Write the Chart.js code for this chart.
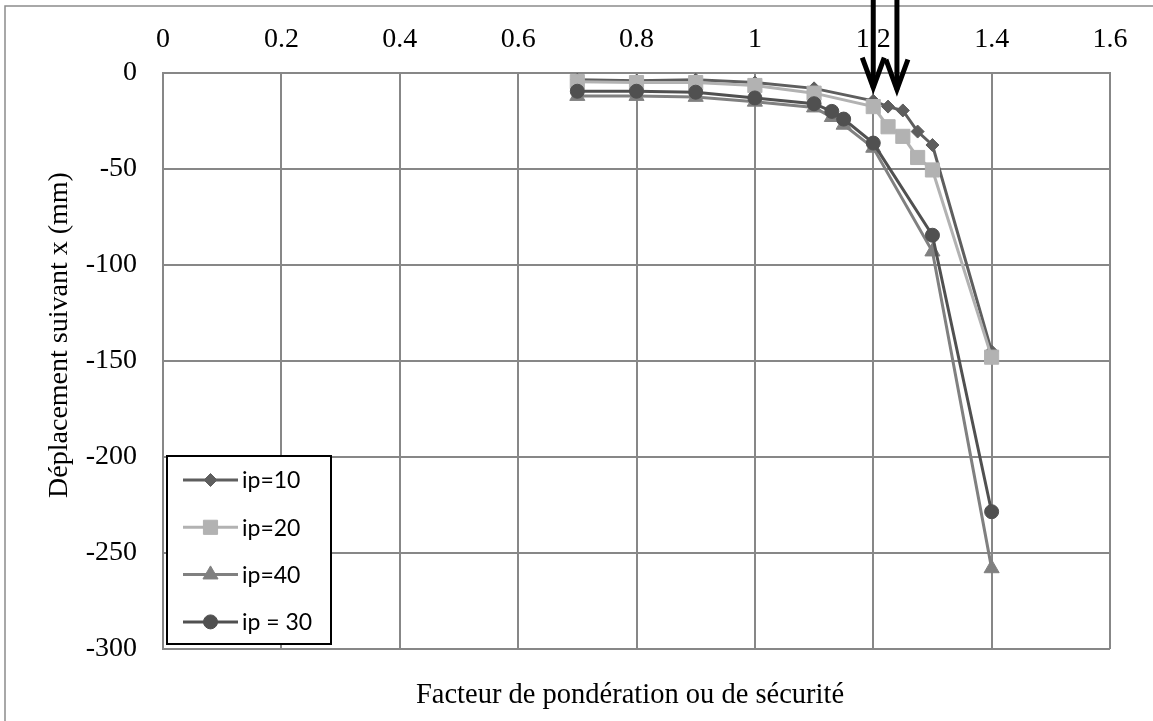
<!DOCTYPE html>
<html>
<head>
<meta charset="utf-8">
<script src="https://cdn.jsdelivr.net/npm/chart.js@4/dist/chart.umd.min.js"></script>
<style>
  html, body { margin: 0; padding: 0; background: #ffffff; }
  canvas { display: block; }
</style>
</head>
<body>
<canvas id="chart" width="1153" height="721"></canvas>
<script>
// Facteur de pondération (x) and horizontal displacement (mm) for each series
const fs10 = [0.7, 0.8, 0.9, 1.0, 1.1, 1.2, 1.225, 1.25, 1.275, 1.3, 1.4];
const ux10 = [-3.5, -4, -3.5, -5, -8, -14.5, -17.5, -19.5, -30.5, -37.5, -145];
const fs20 = [0.7, 0.8, 0.9, 1.0, 1.1, 1.2, 1.225, 1.25, 1.275, 1.3, 1.4];
const ux20 = [-4.5, -5, -5, -6.5, -10.5, -17.5, -28, -33, -44, -50.5, -148];
const fs40 = [0.7, 0.8, 0.9, 1.0, 1.1, 1.13, 1.15, 1.2, 1.3, 1.4];
const ux40 = [-12, -12, -12.5, -15, -18, -23, -27, -39, -93, -258];
const fs30 = [0.7, 0.8, 0.9, 1.0, 1.1, 1.13, 1.15, 1.2, 1.3, 1.4];
const ux30 = [-9.5, -9.5, -10, -13, -16, -20, -24, -36.5, -84.5, -228.5];
const seriesNames = ['ip=10', 'ip=20', 'ip=40', 'ip = 30'];

// Axis ticks and titles
const xTicks = [0, 0.2, 0.4, 0.6, 0.8, 1, 1.2, 1.4, 1.6];
const yTicks = [0, -50, -100, -150, -200, -250, -300];
const xTitle = 'Facteur de pondération ou de sécurité';
const yTitle = 'Déplacement suivant x (mm)';

// Arrows pointing at the critical factors (x value, tip y value)
const arrowX = [1.2, 1.24];
const arrowTipY = [-11.5, -12.5];

const toPoints = (xs, ys) => xs.map((x, i) => ({ x: x, y: ys[i] }));

const SERIF = "'Liberation Serif', 'Times New Roman', serif";
const SANS = "Lato, 'Open Sans', sans-serif";
const GRID = '#878787';

const styles = [
  { color: '#5e5e5e', pointStyle: 'rectRot', radius: 6.5, order: 4 },
  { color: '#b2b2b2', pointStyle: 'rect', radius: 10, order: 3 },
  { color: '#808080', pointStyle: 'triangle', radius: 8.7, order: 2 },
  { color: '#505050', pointStyle: 'circle', radius: 7, order: 1 }
];
const seriesData = [toPoints(fs10, ux10), toPoints(fs20, ux20), toPoints(fs40, ux40), toPoints(fs30, ux30)];

const datasets = seriesNames.map((name, i) => ({
  label: name,
  data: seriesData[i],
  borderColor: styles[i].color,
  backgroundColor: styles[i].color,
  pointBackgroundColor: styles[i].color,
  pointBorderColor: styles[i].color,
  pointBorderWidth: 1,
  pointStyle: styles[i].pointStyle,
  pointRadius: styles[i].radius,
  borderWidth: 3,
  tension: 0,
  order: styles[i].order,
  clip: false
}));

// Outer frame, axis titles, boxed legend and the two arrows
const decorations = {
  id: 'decorations',
  beforeDraw(chart) {
    const ctx = chart.ctx;
    ctx.save();
    ctx.fillStyle = '#ffffff';
    ctx.fillRect(0, 0, chart.width, chart.height);
    ctx.strokeStyle = '#8c8c8c';
    ctx.lineWidth = 1.5;
    ctx.beginPath();
    ctx.moveTo(5, chart.height);
    ctx.lineTo(5, 6);
    ctx.lineTo(chart.width, 6);
    ctx.stroke();

    // axis titles
    ctx.fillStyle = '#000000';
    ctx.font = '28.5px ' + SERIF;
    ctx.textAlign = 'center';
    ctx.textBaseline = 'alphabetic';
    ctx.fillText(xTitle, 630, 703);
    ctx.translate(66.5, 335);
    ctx.rotate(-Math.PI / 2);
    ctx.font = '28px ' + SERIF;
    ctx.fillText(yTitle, 0, 0);
    ctx.restore();
  },
  afterDraw(chart) {
    const ctx = chart.ctx;
    const area = chart.chartArea;

    // legend box
    const bx = area.left + 4, by = area.bottom - 193, bw = 164, bh = 188;
    ctx.save();
    ctx.fillStyle = '#ffffff';
    ctx.fillRect(bx, by, bw, bh);
    ctx.strokeStyle = '#000000';
    ctx.lineWidth = 2;
    ctx.strokeRect(bx, by, bw, bh);
    ctx.font = '23px ' + SANS;
    ctx.textBaseline = 'middle';
    ctx.textAlign = 'left';
    chart.data.datasets.forEach((ds, i) => {
      const ry = by + 24 + i * 47.3;
      ctx.strokeStyle = ds.borderColor;
      ctx.lineWidth = 3;
      ctx.beginPath();
      ctx.moveTo(bx + 16, ry);
      ctx.lineTo(bx + 71, ry);
      ctx.stroke();
      ctx.fillStyle = ds.pointBackgroundColor;
      ctx.strokeStyle = ds.pointBorderColor;
      ctx.lineWidth = 1;
      Chart.helpers.drawPoint(ctx, { pointStyle: ds.pointStyle, radius: ds.pointRadius, rotation: 0, borderWidth: 1 }, bx + 43.5, ry);
      ctx.fillStyle = '#000000';
      ctx.fillText(ds.label, bx + 75, ry + 1);
    });
    ctx.restore();

    // arrows
    const xs = chart.scales.x, ys = chart.scales.y;
    ctx.save();
    ctx.strokeStyle = '#000000';
    ctx.lineWidth = 5;
    ctx.lineCap = 'butt';
    ctx.lineJoin = 'miter';
    ctx.miterLimit = 10;
    arrowX.forEach((v, i) => {
      const px = xs.getPixelForValue(v);
      const tip = ys.getPixelForValue(arrowTipY[i]);
      const vy = tip - 7.5;
      ctx.beginPath();
      ctx.moveTo(px, 0);
      ctx.lineTo(px, vy);
      ctx.stroke();
      ctx.beginPath();
      ctx.moveTo(px - 11, vy - 30);
      ctx.lineTo(px, vy);
      ctx.lineTo(px + 11, vy - 30);
      ctx.stroke();
    });
    ctx.restore();
  }
};

new Chart(document.getElementById('chart'), {
  type: 'line',
  data: { datasets: datasets },
  plugins: [decorations],
  options: {
    responsive: false,
    animation: false,
    events: [],
    layout: { padding: { left: 0, top: 0, right: 43, bottom: 72 } },
    plugins: {
      legend: { display: false },
      tooltip: { enabled: false }
    },
    scales: {
      x: {
        type: 'linear',
        position: 'top',
        min: 0,
        max: 1.6,
        afterBuildTicks: (s) => { s.ticks = xTicks.map(v => ({ value: v })); },
        afterFit: (s) => { s.height = 73; },
        ticks: {
          color: '#000000',
          font: { family: SERIF, size: 28 },
          padding: 17,
          maxRotation: 0,
          callback: (v) => String(v)
        },
        grid: { color: GRID, lineWidth: 2, drawTicks: false },
        border: { color: GRID, width: 2 }
      },
      y: {
        type: 'linear',
        position: 'left',
        min: -300,
        max: 0,
        afterBuildTicks: (s) => { s.ticks = yTicks.map(v => ({ value: v })); },
        afterFit: (s) => { s.width = 163; },
        ticks: {
          color: '#000000',
          font: { family: SERIF, size: 28 },
          padding: 26,
          callback: (v) => String(v)
        },
        grid: { color: GRID, lineWidth: 2, drawTicks: false },
        border: { color: GRID, width: 2 }
      }
    }
  }
});
</script>
</body>
</html>
